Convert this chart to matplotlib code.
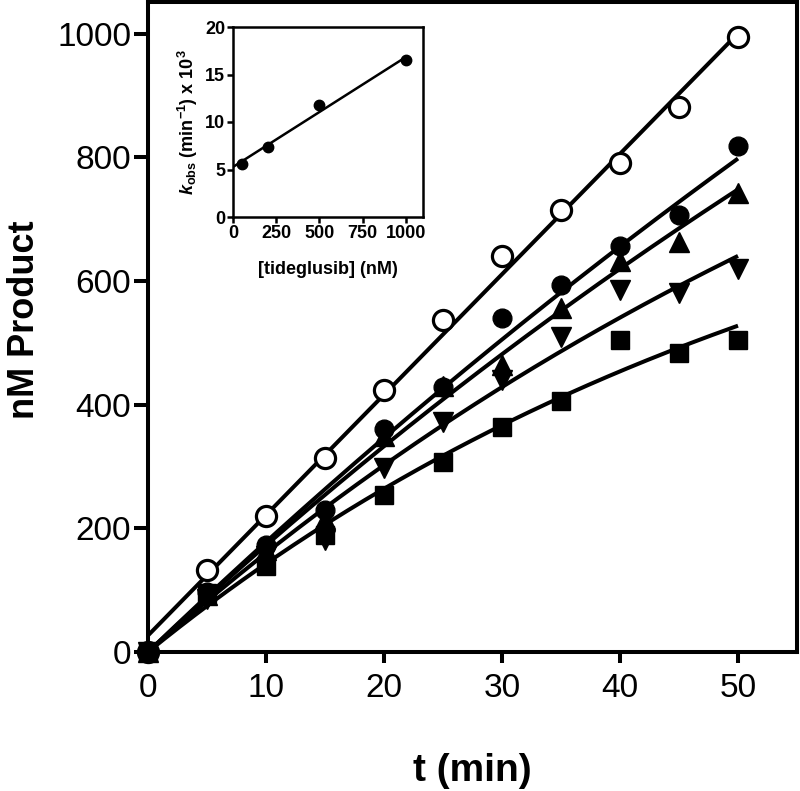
import numpy as np
import matplotlib
matplotlib.use("Agg")
import matplotlib.pyplot as plt

plt.rcParams['font.family'] = ['Liberation Sans', 'DejaVu Sans']
plt.rcParams['mathtext.fontset'] = 'custom'
plt.rcParams['mathtext.rm'] = 'Liberation Sans:bold'
plt.rcParams['mathtext.bf'] = 'Liberation Sans:bold'
plt.rcParams['mathtext.it'] = 'Liberation Sans:bold:italic'

# ---- data ----
t_min = [0, 5, 10, 15, 20, 25, 30, 35, 40, 45, 50]
control = [0, 132, 220, 313, 423, 537, 641, 715, 791, 882, 995]
tide_50 = [0, 97, 173, 229, 360, 428, 540, 593, 657, 706, 819]
tide_200 = [0, 92, 165, 215, 350, 430, 464, 557, 633, 663, 742]
tide_500 = [0, 85, 155, 181, 298, 372, 440, 509, 585, 580, 620]
tide_1000 = [0, 95, 139, 189, 254, 307, 364, 406, 505, 483, 505]

# inset
conc_nM = [50, 200, 500, 1000]
kobs_e3 = [5.6, 7.4, 11.8, 16.5]

# fitted initial velocities (nM/min) for P = vi*(1-exp(-kobs t))/kobs
vi_fit = [18.3, 17.9, 16.96, 15.5]

W, H = 800, 791
fig = plt.figure(figsize=(W / 100, H / 100), dpi=100)
ax = fig.add_axes([148 / W, 1 - 652 / H, (797 - 148) / W, (652 - 1.5) / H])

t = np.array(t_min, dtype=float)
tt = np.linspace(0, 50, 300)

lw = 2.9
# control: linear fit
p = np.polyfit(t, control, 1)
ax.plot(tt, np.polyval(p, tt), color='black', lw=lw, zorder=2, solid_capstyle='butt')
ax.plot(t, control, 'o', mfc='white', mec='black', mew=2.3, ms=14.5, zorder=3, clip_on=False)

series = [(tide_50, 'o', 13.5), (tide_200, '^', 14.5), (tide_500, 'v', 14.5), (tide_1000, 's', 12.5)]
for (vals, mk, ms), vi, k in zip(series, vi_fit, kobs_e3):
    kk = k / 1000.0
    ax.plot(tt, vi * (1 - np.exp(-kk * tt)) / kk, color='black', lw=lw, zorder=2, solid_capstyle='butt')
    ax.plot(t, vals, mk, color='black', ms=ms, zorder=3, clip_on=False)

ax.set_xlim(0, 55)
ax.set_ylim(0, 1052)
ax.set_xticks([0, 10, 20, 30, 40, 50])
ax.set_yticks([0, 200, 400, 600, 800, 1000])
for s in ax.spines.values():
    s.set_linewidth(2.9)
ax.tick_params(axis='both', labelsize=24, width=2.9)
ax.tick_params(axis='x', length=8, pad=7)
ax.tick_params(axis='y', length=10, pad=2)

ax.set_xlabel('t (min)', fontsize=28, fontweight='bold')
ax.xaxis.set_label_coords(0.5, -0.156)
ax.set_ylabel('nM Product', fontsize=26, fontweight='bold')
ax.yaxis.set_label_coords(-0.164, 0.511)

# ---- inset ----
axi = fig.add_axes([233 / W, 1 - 217 / H, (423 - 233) / W, (217 - 27) / H])
c = np.array(conc_nM, dtype=float)
pk = np.polyfit(c, kobs_e3, 1)
cx = np.linspace(0, 1000, 50)
axi.plot(cx, np.polyval(pk, cx), color='black', lw=1.8)
axi.plot(c, kobs_e3, 'o', color='black', ms=7.5, clip_on=False)
axi.set_xlim(0, 1100)
axi.set_ylim(0, 20)
axi.set_xticks([0, 250, 500, 750, 1000])
axi.set_yticks([0, 5, 10, 15, 20])
for s in axi.spines.values():
    s.set_linewidth(1.8)
axi.tick_params(axis='both', labelsize=13, width=1.8, length=4, pad=1.5)
for lab in axi.get_xticklabels() + axi.get_yticklabels():
    lab.set_fontweight('bold')
axi.set_xlabel('[tideglusib] (nM)', fontsize=13, fontweight='bold', labelpad=14)
axi.set_ylabel(r'$k_{\mathrm{obs}}$ (min$^{-1}$) x 10$^{3}$', fontsize=13, fontweight='bold', labelpad=4)

fig.savefig('out.png', dpi=100)
